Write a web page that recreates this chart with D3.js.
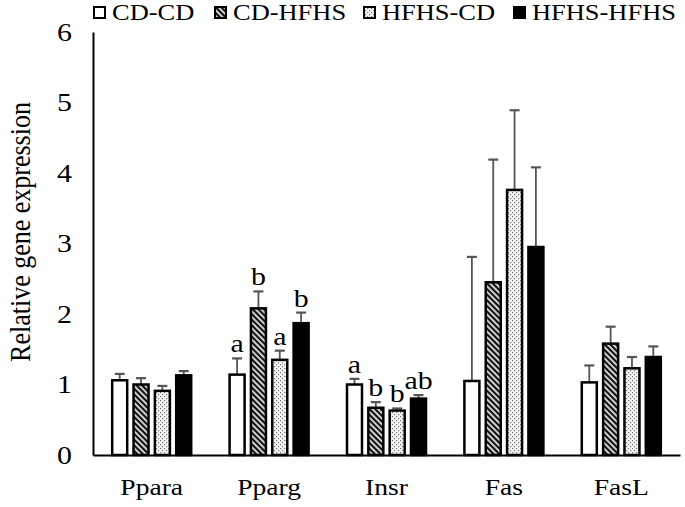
<!DOCTYPE html>
<html>
<head>
<meta charset="utf-8">
<script src="https://cdn.jsdelivr.net/npm/d3@7"></script>
<style>
  body { margin: 0; background: #fff; }
  text { font-family: "Liberation Serif", "Times New Roman", serif; fill: #000; }
</style>
</head>
<body>
<svg id="chart" width="685" height="507"></svg>
<script>
const genes = ['Ppara', 'Pparg', 'Insr', 'Fas', 'FasL']
const groups = ['CD-CD', 'CD-HFHS', 'HFHS-CD', 'HFHS-HFHS']

// mean expression per group, in gene order
const cdcd = [1.06, 1.14, 1.00, 1.05, 1.03]
const cdhfhs = [1.00, 2.08, 0.67, 2.45, 1.58]
const hfhscd = [0.91, 1.35, 0.63, 3.76, 1.23]
const hfhshfhs = [1.13, 1.87, 0.80, 2.95, 1.39]

// upper error (SEM)
const errCdcd = [0.09, 0.23, 0.08, 1.76, 0.24]
const errCdhfhs = [0.09, 0.24, 0.08, 1.74, 0.24]
const errHfhscd = [0.07, 0.13, 0.03, 1.13, 0.16]
const errHfhshfhs = [0.06, 0.15, 0.05, 1.13, 0.15]

// significance letters
const sigCdcd = ['', 'a', 'a', '', '']
const sigCdhfhs = ['', 'b', 'b', '', '']
const sigHfhscd = ['', 'a', 'b', '', '']
const sigHfhshfhs = ['', 'b', 'ab', '', '']

const yTicks = [0, 1, 2, 3, 4, 5, 6]

const means = [cdcd, cdhfhs, hfhscd, hfhshfhs]
const errs = [errCdcd, errCdhfhs, errHfhscd, errHfhshfhs]
const sigs = [sigCdcd, sigCdhfhs, sigHfhscd, sigHfhshfhs]

const svg = d3.select('#chart')
const margin = { left: 93, right: 5, top: 32, bottom: 52 }
const W = 685, H = 507
const STRETCH = 1.15 // the source figure is a bit wider than tall

// patterns
const defs = svg.append('defs')
const hatch = defs.append('pattern')
  .attr('id', 'hatch')
  .attr('patternUnits', 'userSpaceOnUse')
  .attr('width', 4).attr('height', 4)
  .attr('patternTransform', 'rotate(-45)')
hatch.append('rect').attr('width', 4).attr('height', 4).attr('fill', '#111')
hatch.append('line').attr('x1', 2).attr('x2', 2).attr('y1', 0).attr('y2', 4)
  .attr('stroke', '#fff').attr('stroke-width', 1.6)

const dots = defs.append('pattern')
  .attr('id', 'dots')
  .attr('patternUnits', 'userSpaceOnUse')
  .attr('width', 4).attr('height', 4)
dots.append('rect').attr('width', 4).attr('height', 4).attr('fill', '#f4f4f4')
dots.append('rect').attr('x', 0).attr('y', 0).attr('width', 1.2).attr('height', 1.2).attr('fill', '#777')
dots.append('rect').attr('x', 2).attr('y', 2).attr('width', 1.2).attr('height', 1.2).attr('fill', '#777')

const fills = ['#fff', 'url(#hatch)', 'url(#dots)', '#000']

const x0 = d3.scaleBand().domain(genes)
  .range([margin.left, W - margin.right])
  .paddingInner(0.327).paddingOuter(0.1635)
const x1 = d3.scaleBand().domain(groups)
  .range([0, x0.bandwidth()])
  .paddingInner(0.297)
const y = d3.scaleLinear().domain([0, 6]).range([H - margin.bottom, margin.top])

// y axis
const yAxis = svg.append('g')
  .attr('transform', `translate(${margin.left},0)`)
  .call(d3.axisLeft(y).tickValues(yTicks).tickFormat(d3.format('d'))
    .tickSize(0).tickSizeOuter(0).tickPadding(21))
  .attr('font-family', null).attr('font-size', null)
yAxis.select('.domain').attr('stroke', '#000').attr('stroke-width', 2)
yAxis.selectAll('text')
  .attr('font-size', 26)
  .attr('x', -21 / STRETCH)
  .attr('transform', `scale(${STRETCH},1)`)

// x axis
const xAxis = svg.append('g')
  .attr('transform', `translate(0,${y(0)})`)
  .call(d3.axisBottom(x0).tickSize(0).tickSizeOuter(0).tickPadding(23))
  .attr('font-family', null).attr('font-size', null)
xAxis.select('.domain').attr('stroke', '#000').attr('stroke-width', 2)
xAxis.selectAll('text')
  .attr('font-size', 24)
  .attr('transform', `scale(${STRETCH},1)`)

// flatten
const rows = []
groups.forEach((g, gi) => {
  genes.forEach((gene, i) => {
    rows.push({ gene, group: g, gi, v: means[gi][i], e: errs[gi][i], s: sigs[gi][i] })
  })
})

const cx = d => x0(d.gene) + x1(d.group) + x1.bandwidth() / 2
const barG = svg.append('g')

// error bars (upper only)
const errG = barG.selectAll('.err').data(rows).enter().append('g').attr('class', 'err')
errG.append('line')
  .attr('x1', cx).attr('x2', cx)
  .attr('y1', d => y(d.v))
  .attr('y2', d => y(d.v + d.e))
  .attr('stroke', '#555').attr('stroke-width', 1.8)
errG.append('line')
  .attr('x1', d => cx(d) - 5)
  .attr('x2', d => cx(d) + 5)
  .attr('y1', d => y(d.v + d.e))
  .attr('y2', d => y(d.v + d.e))
  .attr('stroke', '#555').attr('stroke-width', 2.2)

barG.selectAll('.bar').data(rows).enter().append('rect')
  .attr('class', 'bar')
  .attr('x', d => x0(d.gene) + x1(d.group))
  .attr('y', d => y(d.v))
  .attr('width', x1.bandwidth())
  .attr('height', d => y(0) - y(d.v))
  .attr('fill', d => fills[d.gi])
  .attr('stroke', '#000').attr('stroke-width', 2.5)

// letters
barG.selectAll('.sig').data(rows.filter(d => d.s)).enter().append('text')
  .attr('class', 'sig')
  .attr('transform', d => `translate(${cx(d)},${y(d.v + d.e) - 6}) scale(${STRETCH},1)`)
  .attr('text-anchor', 'middle')
  .attr('font-size', 26)
  .text(d => d.s)

// y title
svg.append('text')
  .attr('transform', 'translate(30,232) rotate(-90) scale(1,1.12)')
  .attr('text-anchor', 'middle')
  .attr('font-size', 26)
  .text('Relative gene expression')

// legend
const legendX = [93, 214, 363, 513]
const legend = svg.append('g').selectAll('g').data(groups).enter().append('g')
  .attr('transform', (d, i) => `translate(${legendX[i]},0)`)
legend.append('rect')
  .attr('x', 1).attr('y', 7).attr('width', 11).attr('height', 11)
  .attr('fill', (d, i) => fills[i])
  .attr('stroke', '#000').attr('stroke-width', 2)
legend.append('text')
  .attr('transform', `translate(19,20) scale(${STRETCH},1)`)
  .attr('font-size', 23)
  .text(d => d)
</script>
</body>
</html>
